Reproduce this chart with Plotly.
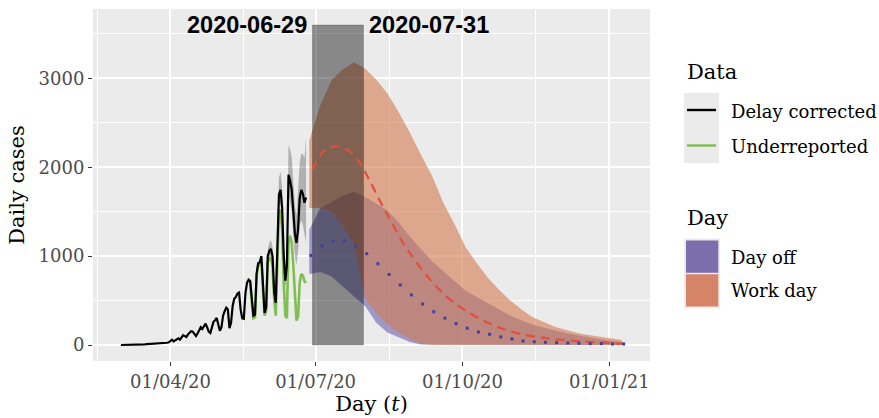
import plotly.graph_objects as go
import pandas as pd

# ---------------- data ----------------
obs_start = "2020-03-01"
delay_corrected = [
    0, 0, 0, 1, 1, 2, 2, 3, 3, 4, 5, 5, 6, 7, 7, 8, 9, 10, 8, 11,
    12, 14, 10, 15, 16, 18, 20, 17, 22,
    25, 30, 45, 60, 40, 55, 70, 75, 60, 90, 110, 100,
    90, 120, 140, 155, 150, 120, 100, 130, 170, 200,
    180, 220, 240, 200, 150, 135, 210, 260, 280, 305,
    230, 160, 200, 330, 380, 420, 400, 190, 250, 440,
    520, 540, 580, 590, 400, 300, 295, 580, 700, 735,
    720, 500, 330, 340, 800, 920, 930, 1000, 700, 360,
    420, 1000, 1060, 1080, 1000, 600, 475, 1100, 1690, 1745,
    1550, 1000, 725, 900, 1915, 1850, 1750, 1500, 1250, 1150,
    1300, 1650, 1745, 1700, 1600, 1660,
]
under_start = "2020-05-20"
underreported = [
    735, 700, 480, 300, 310, 780, 900, 900, 930, 620,
    330, 380, 930, 980, 980, 880, 520, 330, 1000, 1500,
    1520, 1300, 700, 330, 300, 1150, 1230, 1150, 900, 550,
    275, 320, 700, 800, 780, 720, 700,
]
ci_start = "2020-06-01"
ci_upper = [1080, 1150, 1180, 1100, 700, 560, 1250, 1880, 1950, 1780, 1180, 880, 1080,
            2250, 2200, 2120, 1850, 1580, 1450, 1700, 2050, 2150, 2150, 2100, 2330]
ci_lower = [950, 1000, 1000, 920, 560, 430, 1000, 1550, 1580, 1400, 880, 640, 780,
            1700, 1620, 1500, 1250, 1000, 900, 1050, 1350, 1400, 1350, 1250, 1150]

band_start = "2020-06-27"
work_upper = [2300, 2700, 2980, 3100, 3180, 3110, 2985, 2830, 2620, 2390, 2140, 1900, 1600, 1360,
              1100, 920, 755, 620, 500, 400, 312, 255, 205, 170, 135, 112, 92, 75, 57]
work_lower = [1540, 1545, 1500, 1340, 1130, 520, 360, 230, 140, 70, 15, 0, 0, 0,
              0, 0, 0, 0, 0, 0, 0, 0, 0, 0, 0, 0, 0, 0, 0]
off_upper = [1300, 1540, 1610, 1680, 1725, 1665, 1590, 1517, 1380, 1220, 1080, 940, 830, 720,
             610, 540, 470, 395, 330, 275, 230, 195, 162, 135, 110, 85, 65, 48, 35]
off_lower = [800, 820, 770, 660, 545, 440, 250, 140, 90, 35, 5, 0, 0, 0,
             0, 0, 0, 0, 0, 0, 0, 0, 0, 0, 0, 0, 0, 0, 0]
off_median_start = "2020-06-28"
off_median = [1008, 1113, 1170, 1170, 1113, 1027, 914, 793, 676, 563, 461, 374, 302, 241, 189,
              147, 121, 91, 68, 45, 37, 30, 26, 23, 19, 15, 15, 11, 11]
work_median_start = "2020-06-29"
work_median = [1970, 2178, 2235, 2205, 2090, 1880, 1630, 1400, 1170, 985, 815, 670, 545, 445, 365,
               293, 235, 182, 145, 115, 93, 76, 62, 50, 41, 33, 26, 20, 15]

window_start = "2020-06-29"
window_end = "2020-07-31"
window_top = 3600

x_tickvals = ["2020-04-01", "2020-07-01", "2020-10-01", "2021-01-01"]
x_ticktext = ["01/04/20", "01/07/20", "01/10/20", "01/01/21"]
x_minor = ["2020-02-15 12:00", "2020-05-16 12:00", "2020-08-16", "2020-11-16"]
y_tickvals = [0, 1000, 2000, 3000]
y_minor = [500, 1500, 2500, 3500]

legend_data_title = "Data"
legend_data_labels = ["Delay corrected", "Underreported"]
legend_day_title = "Day"
legend_day_labels = ["Day off", "Work day"]

# ---------------- style ----------------
C_BLACK = "#000000"
C_GREEN = "#7FBF4F"
C_RED = "#E0503A"
C_BLUE = "#4040A0"
FILL_OFF = "rgba(107,97,177,0.6)"
FILL_WORK = "rgba(210,122,78,0.6)"
KEY_OFF = "#7A6FAC"
KEY_WORK = "#D58468"
SERIF = "DejaVu Serif"

obs_dates = pd.date_range(obs_start, periods=len(delay_corrected), freq="D")
under_dates = pd.date_range(under_start, periods=len(underreported), freq="D")
ci_dates = pd.date_range(ci_start, periods=len(ci_upper), freq="D")
band_dates = pd.date_range(band_start, periods=len(work_upper), freq="7D")
off_dates = pd.date_range(off_median_start, periods=len(off_median), freq="7D")
work_dates = pd.date_range(work_median_start, periods=len(work_median), freq="7D")

fig = go.Figure()


def band(dates, lower, upper, color):
    xs = list(dates) + list(dates[::-1])
    ys = list(upper) + list(lower[::-1])
    fig.add_trace(go.Scatter(x=xs, y=ys, fill="toself", fillcolor=color, mode="lines",
                             line=dict(width=0), hoverinfo="skip", showlegend=False))


band(band_dates, off_lower, off_upper, FILL_OFF)
band(band_dates, work_lower, work_upper, FILL_WORK)
band(ci_dates, ci_lower, ci_upper, "rgba(0,0,0,0.25)")

# shaded window (drawn over the bands, under the lines)
fig.add_trace(go.Scatter(
    x=[window_start, window_start, window_end, window_end, window_start],
    y=[0, window_top, window_top, 0, 0],
    fill="toself", fillcolor="rgba(0,0,0,0.42)", mode="lines",
    line=dict(width=1, color="rgba(0,0,0,0.18)"), hoverinfo="skip", showlegend=False))

fig.add_trace(go.Scatter(x=under_dates, y=underreported, mode="lines",
                         line=dict(color=C_GREEN, width=2.6), showlegend=False))
fig.add_trace(go.Scatter(x=obs_dates, y=delay_corrected, mode="lines",
                         line=dict(color=C_BLACK, width=2.2), showlegend=False))
fig.add_trace(go.Scatter(x=work_dates, y=work_median, mode="lines",
                         line=dict(color=C_RED, width=2.2, dash="9px,6px", shape="spline"),
                         showlegend=False))
fig.add_trace(go.Scatter(x=off_dates, y=off_median, mode="markers",
                         marker=dict(color=C_BLUE, size=3, symbol="square", line=dict(width=0)),
                         showlegend=False))

fig.add_annotation(x=window_start, y=window_top, xref="x", yref="y", text=window_start,
                   showarrow=False, xanchor="right", yanchor="middle", xshift=-3,
                   font=dict(family="Liberation Sans", size=23.5, color="black", weight="bold"))
fig.add_annotation(x=window_end, y=window_top, xref="x", yref="y", text=window_end,
                   showarrow=False, xanchor="left", yanchor="middle", xshift=3,
                   font=dict(family="Liberation Sans", size=23.5, color="black", weight="bold"))

# ---------------- layout ----------------
L, R, T, B = 93, 650, 9, 361
W, H = 879, 418


def px(x):
    return (x - L) / (R - L)


def py(y):
    return (B - y) / (B - T)


fig.update_layout(
    width=W, height=H, autosize=False,
    margin=dict(l=L, r=W - R, t=T, b=H - B, pad=0),
    paper_bgcolor="white", plot_bgcolor="#EBEBEB", showlegend=False,
    font=dict(family=SERIF, size=18, color="black"),
)
fig.update_xaxes(
    type="date", range=["2020-02-12 12:00", "2021-01-26 12:00"],
    tickmode="array", tickvals=x_tickvals, ticktext=x_ticktext,
    ticks="outside", ticklen=4, tickwidth=1.1, tickcolor="#333333",
    tickfont=dict(family=SERIF, size=18, color="#4D4D4D"),
    showgrid=True, gridcolor="white", gridwidth=1.6, zeroline=False, showline=False,
    minor=dict(tickmode="array", tickvals=x_minor, showgrid=True, gridcolor="white", gridwidth=0.8),
    title=dict(text="Day (<i>t</i>)", font=dict(family=SERIF, size=21, color="black"), standoff=4),
    automargin=False,
)
fig.update_yaxes(
    range=[-180, 3780],
    tickmode="array", tickvals=y_tickvals,
    ticks="outside", ticklen=4, tickwidth=1.1, tickcolor="#333333",
    tickfont=dict(family=SERIF, size=18, color="#4D4D4D"),
    showgrid=True, gridcolor="white", gridwidth=1.6, zeroline=False, showline=False,
    minor=dict(tickmode="array", tickvals=y_minor, showgrid=True, gridcolor="white", gridwidth=0.8),
    title=dict(text="Daily cases", font=dict(family=SERIF, size=21, color="black"), standoff=8),
    automargin=False,
)

# ---------------- manual legend ----------------
shapes = []
annots = []
annots.append(dict(x=px(685), y=py(72), xref="paper", yref="paper", text=legend_data_title,
                   showarrow=False, xanchor="left", yanchor="middle", font=dict(size=21)))
shapes.append(dict(type="rect", xref="paper", yref="paper", x0=px(684), x1=px(719), y0=py(163), y1=py(93),
                   fillcolor="#EBEBEB", line=dict(width=0)))
for i, (lab, col) in enumerate(zip(legend_data_labels, [C_BLACK, C_GREEN])):
    yc = 110 + 35.5 * i
    shapes.append(dict(type="line", xref="paper", yref="paper", x0=px(687), x1=px(716), y0=py(yc), y1=py(yc),
                       line=dict(color=col, width=2.4)))
    annots.append(dict(x=px(729), y=py(yc + 1), xref="paper", yref="paper", text=lab, showarrow=False,
                       xanchor="left", yanchor="middle", font=dict(size=18)))

annots.append(dict(x=px(685), y=py(218), xref="paper", yref="paper", text=legend_day_title,
                   showarrow=False, xanchor="left", yanchor="middle", font=dict(size=21)))
shapes.append(dict(type="rect", xref="paper", yref="paper", x0=px(684), x1=px(720), y0=py(308.5), y1=py(238.5),
                   fillcolor="#EBEBEB", line=dict(width=0)))
for i, (lab, col) in enumerate(zip(legend_day_labels, [KEY_OFF, KEY_WORK])):
    y0 = 240.5 + 33.8 * i
    shapes.append(dict(type="rect", xref="paper", yref="paper", x0=px(686), x1=px(718.3),
                       y0=py(y0 + 32.2), y1=py(y0), fillcolor=col, line=dict(width=0)))
    annots.append(dict(x=px(729), y=py(y0 + 16.5), xref="paper", yref="paper", text=lab, showarrow=False,
                       xanchor="left", yanchor="middle", font=dict(size=18)))

for s in shapes:
    fig.add_shape(**s)
for a in annots:
    fig.add_annotation(**a)

fig.write_html("out.html", config={"displayModeBar": False},
               post_script="document.body.style.margin='0';")
